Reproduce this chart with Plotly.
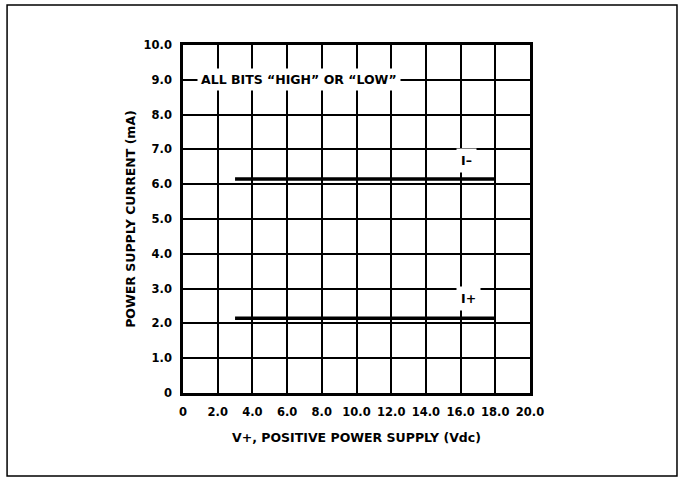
import plotly.graph_objects as go

# Supply voltage (Vdc) span of the curves and supply currents (mA)
v_supply = [3.0, 18.0]
i_minus = [6.15, 6.15]
i_plus = [2.15, 2.15]

x_ticks = [0, 2, 4, 6, 8, 10, 12, 14, 16, 18, 20]
x_tick_text = ["0", "2.0", "4.0", "6.0", "8.0", "10.0", "12.0", "14.0", "16.0", "18.0", "20.0"]
y_ticks = [0, 1, 2, 3, 4, 5, 6, 7, 8, 9, 10]
y_tick_text = ["0", "1.0", "2.0", "3.0", "4.0", "5.0", "6.0", "7.0", "8.0", "9.0", "10.0"]

FONT = "DejaVu Sans, Arial, Helvetica, sans-serif"
TXT = dict(family=FONT, size=12.5, color="black", weight="bold")
TICK = dict(family=FONT, size=11.5, color="black", weight="bold")

fig = go.Figure()
fig.add_trace(go.Scatter(x=v_supply, y=i_minus, mode="lines",
                         line=dict(color="black", width=3.5), showlegend=False))
fig.add_trace(go.Scatter(x=v_supply, y=i_plus, mode="lines",
                         line=dict(color="black", width=3.5), showlegend=False))

axis_common = dict(showgrid=True, gridcolor="black", gridwidth=1.5,
                   showline=True, linecolor="black", linewidth=2.5, mirror=True,
                   zeroline=False, ticks="", tickfont=TICK)

fig.update_xaxes(range=[0, 20], tickvals=x_ticks, ticktext=x_tick_text,
                 ticklabelstandoff=6,
                 title=dict(text="V+, POSITIVE POWER SUPPLY (Vdc)", standoff=16, font=TXT),
                 **axis_common)
fig.update_yaxes(range=[0, 10], tickvals=y_ticks, ticktext=y_tick_text,
                 ticklabelstandoff=6,
                 title=dict(text="POWER SUPPLY CURRENT (mA)", standoff=6, font=TXT),
                 **axis_common)

fig.add_annotation(x=0.8, y=9.0, text="ALL BITS \u201cHIGH\u201d OR \u201cLOW\u201d",
                   showarrow=False, xanchor="left", yanchor="middle", bgcolor="white",
                   font=TXT, borderpad=3)
fig.add_annotation(x=15.75, y=6.68, text="I\u2013", showarrow=False, bgcolor="white",
                   xanchor="left", font=TXT, borderpad=4)
fig.add_annotation(x=15.75, y=2.72, text="I+", showarrow=False, bgcolor="white",
                   xanchor="left", font=TXT, borderpad=4)

# Outer frame around the whole figure
fig.add_shape(type="rect", xref="paper", yref="paper",
              x0=-0.507, x1=1.4236, y0=-0.2385, y1=1.115,
              line=dict(color="black", width=1.5), layer="below")

fig.update_layout(width=682, height=483, margin=dict(l=183, r=152, t=45, b=90),
                  paper_bgcolor="white", plot_bgcolor="white",
                  font=dict(family=FONT, color="black"))

fig.write_html("out.html")
